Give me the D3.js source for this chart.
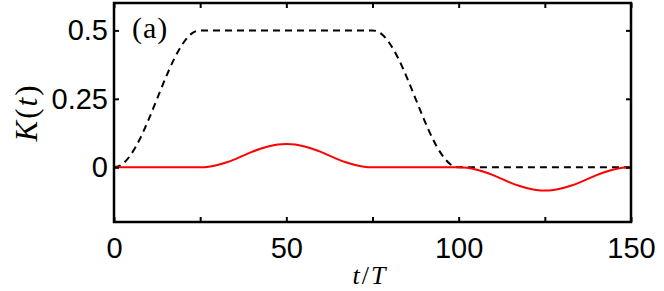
<!DOCTYPE html>
<html>
<head>
<meta charset="utf-8">
<script src="https://cdn.jsdelivr.net/npm/d3@7"></script>
<style>
  body { margin: 0; background: #fff; }
  svg { display: block; }
</style>
</head>
<body>
<div id="chart"></div>
<script>
// time samples, t/T
var tValues = [0, 2.5, 5, 7.5, 10, 12.5, 15, 17.5, 20, 22.5, 25, 27.5, 30, 32.5, 35, 37.5, 40, 42.5, 45, 47.5,
  50, 52.5, 55, 57.5, 60, 62.5, 65, 67.5, 70, 72.5, 75, 77.5, 80, 82.5, 85, 87.5, 90, 92.5, 95, 97.5,
  100, 102.5, 105, 107.5, 110, 112.5, 115, 117.5, 120, 122.5, 125, 127.5, 130, 132.5, 135, 137.5, 140, 142.5, 145, 147.5, 150];

// dashed black curve
var dashedValues = [0, 0.012, 0.048, 0.103, 0.173, 0.25, 0.327, 0.397, 0.452, 0.488, 0.5, 0.5, 0.5, 0.5, 0.5, 0.5, 0.5, 0.5, 0.5, 0.5,
  0.5, 0.5, 0.5, 0.5, 0.5, 0.5, 0.5, 0.5, 0.5, 0.5, 0.5, 0.488, 0.452, 0.397, 0.327, 0.25, 0.173, 0.103, 0.048, 0.012,
  0, 0, 0, 0, 0, 0, 0, 0, 0, 0, 0, 0, 0, 0, 0, 0, 0, 0, 0, 0, 0];

// solid red curve
var redValues = [0, 0, 0, 0, 0, 0, 0, 0, 0, 0, 0, 0.002, 0.008, 0.0175, 0.029, 0.0425, 0.056, 0.0675, 0.077, 0.083,
  0.085, 0.083, 0.077, 0.0675, 0.056, 0.0425, 0.029, 0.0175, 0.008, 0.002, 0, 0, 0, 0, 0, 0, 0, 0, 0, 0,
  0, -0.002, -0.008, -0.0175, -0.029, -0.0425, -0.056, -0.0675, -0.077, -0.083, -0.085, -0.083, -0.077, -0.0675, -0.056, -0.0425, -0.029, -0.0175, -0.008, -0.002, 0];

var xTicks = [0, 25, 50, 75, 100, 125, 150];
var xTickLabels = ['0', '', '50', '', '100', '', '150'];
var yTicks = [0, 0.25, 0.5];
var yTickLabels = ['0', '0.25', '0.5'];

var attrs = {
  svgWidth: 664,
  svgHeight: 291,
  marginLeft: 114,
  marginTop: 3,
  marginRight: 33,
  marginBottom: 69,
  tickFont: '"Liberation Sans", Arial, sans-serif',
  mathFont: '"Liberation Serif", "Times New Roman", serif'
};

var chartWidth = attrs.svgWidth - attrs.marginLeft - attrs.marginRight;
var chartHeight = attrs.svgHeight - attrs.marginTop - attrs.marginBottom;

var svg = d3.select('#chart').append('svg')
  .attr('width', attrs.svgWidth)
  .attr('height', attrs.svgHeight);

var chart = svg.append('g')
  .attr('transform', 'translate(' + attrs.marginLeft + ',' + attrs.marginTop + ')');

var x = d3.scaleLinear().domain([0, 150]).range([0, chartWidth]);
var y = d3.scaleLinear().domain([-0.2, 0.6]).range([chartHeight, 0]);

// lines
var dashedData = tValues.map((t, i) => [t, dashedValues[i]]);
var redData = tValues.map((t, i) => [t, redValues[i]]);

var line = d3.line()
  .x(d => x(d[0]))
  .y(d => y(d[1]))
  .curve(d3.curveMonotoneX);

chart.append('path')
  .datum(dashedData)
  .attr('d', line)
  .attr('fill', 'none')
  .attr('stroke', '#000')
  .attr('stroke-width', 2)
  .attr('stroke-dasharray', '7,5');

chart.append('path')
  .datum(redData)
  .attr('d', line)
  .attr('fill', 'none')
  .attr('stroke', '#ff0000')
  .attr('stroke-width', 2);

// axes, ticks pointing inward
var tickLen = 5;

var xAxisBottom = d3.axisBottom(x).tickValues(xTicks)
  .tickSizeInner(-tickLen).tickSizeOuter(0).tickPadding(15)
  .tickFormat((d, i) => xTickLabels[i]);
var xAxisTop = d3.axisTop(x).tickValues(xTicks)
  .tickSizeInner(-tickLen).tickSizeOuter(0).tickFormat('');
var yAxisLeft = d3.axisLeft(y).tickValues(yTicks)
  .tickSizeInner(-tickLen).tickSizeOuter(0).tickPadding(6)
  .tickFormat((d, i) => yTickLabels[i]);
var yAxisRight = d3.axisRight(y).tickValues(yTicks)
  .tickSizeInner(-tickLen).tickSizeOuter(0).tickFormat('');

function styleAxis(g) {
  g.select('.domain').remove();
  g.selectAll('.tick line').attr('stroke', '#000').attr('stroke-width', 2);
  g.selectAll('.tick text')
    .attr('fill', '#000')
    .style('font-family', attrs.tickFont)
    .style('font-size', '29px');
}

chart.append('g').attr('transform', 'translate(0,' + chartHeight + ')').call(xAxisBottom).call(styleAxis);
chart.append('g').call(xAxisTop).call(styleAxis);
chart.append('g').call(yAxisLeft).call(styleAxis);
chart.append('g').attr('transform', 'translate(' + chartWidth + ',0)').call(yAxisRight).call(styleAxis);

// frame
chart.append('rect')
  .attr('width', chartWidth)
  .attr('height', chartHeight)
  .attr('fill', 'none')
  .attr('stroke', '#000')
  .attr('stroke-width', 2.5);

// panel label
chart.append('text')
  .attr('x', 18)
  .attr('y', 35)
  .style('font-family', attrs.mathFont)
  .style('font-size', '30px')
  .style('letter-spacing', '1px')
  .text('(a)');

// axis titles
var xTitle = svg.append('text')
  .attr('x', 370)
  .attr('y', 284)
  .attr('text-anchor', 'middle')
  .style('font-family', attrs.mathFont)
  .style('font-size', '26px')
  .style('letter-spacing', '2px');
xTitle.append('tspan').style('font-style', 'italic').text('t');
xTitle.append('tspan').text('/');
xTitle.append('tspan').style('font-style', 'italic').text('T');

var yTitle = svg.append('text')
  .attr('transform', 'translate(37,' + (attrs.marginTop + y(0.2)) + ') rotate(-90)')
  .attr('text-anchor', 'middle')
  .style('font-family', attrs.mathFont)
  .style('font-size', '31px')
  .style('letter-spacing', '2px');
yTitle.append('tspan').style('font-style', 'italic').text('K');
yTitle.append('tspan').text('(');
yTitle.append('tspan').style('font-style', 'italic').text('t');
yTitle.append('tspan').text(')');
</script>
</body>
</html>
